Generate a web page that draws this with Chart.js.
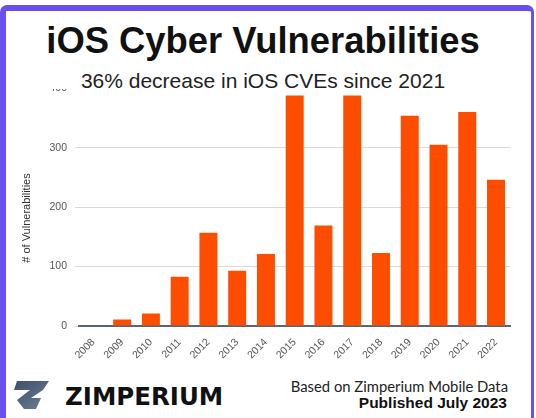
<!DOCTYPE html>
<html>
<head>
<meta charset="utf-8">
<script src="https://cdn.jsdelivr.net/npm/chart.js@4/dist/chart.umd.min.js"></script>
<style>
  html, body { margin: 0; padding: 0; background: #fff; }
  body { width: 536px; height: 418px; position: relative; overflow: hidden; }
  #frame { position: absolute; left: 0; top: 5px; width: 534px; height: 440px; box-sizing: border-box;
           border-top: 6px solid #6b4ef0; border-left: 6px solid #6b4ef0; border-right: 3px solid #6b4ef0;
           border-radius: 7px 7px 0 0; }
  .t { position: absolute; white-space: nowrap; line-height: 1; }
  #title { left: 0; width: 526px; text-align: center; top: 19.5px; font: bold 36.4px "Liberation Sans", Arial, sans-serif; color: #111; }
  #sub { left: 0; width: 526px; text-align: center; top: 69px; font: 21px "Liberation Sans", Arial, sans-serif; color: #222; }
  #wrap { position: absolute; left: 0; top: 89px; width: 536px; height: 276px; overflow: hidden; }
  #box { position: absolute; left: 0; top: -15px; width: 536px; height: 291px; }
  #ytitle { position: absolute; left: 26px; top: 217.5px; transform: translate(-50%, -50%) rotate(-90deg);
            font: 11px "Liberation Sans", Arial, sans-serif; color: #333; white-space: nowrap; }
  #zim { left: 65px; top: 382px; font: bold 24.5px "DejaVu Sans", sans-serif; color: #111; }
  #based { right: 28px; top: 377px; font: 14.8px Lato, sans-serif; color: #222; }
  #pub { right: 29px; top: 394px; font: bold 15.5px "Liberation Sans", Arial, sans-serif; color: #111; }
  #logo { position: absolute; left: 0; top: 0; }
</style>
</head>
<body>
<div id="frame"></div>
<div class="t" id="title">iOS Cyber Vulnerabilities</div>
<div class="t" id="sub">36% decrease in iOS CVEs since 2021</div>
<div id="wrap"><div id="box"><canvas id="c"></canvas></div></div>
<div id="ytitle"># of Vulnerabilities</div>
<svg id="logo" width="60" height="418" viewBox="0 0 60 418">
  <defs>
    <linearGradient id="g" x1="0" y1="0" x2="1" y2="1">
      <stop offset="0" stop-color="#3d4e66"/>
      <stop offset="1" stop-color="#6e8098"/>
    </linearGradient>
  </defs>
  <polygon fill="url(#g)" points="17,381 49,381 43,390 31,398 41,398 36,409 24,409 17,400 30,390 14,390"/>
</svg>
<div class="t" id="zim">ZIMPERIUM</div>
<div class="t" id="based">Based on Zimperium Mobile Data</div>
<div class="t" id="pub">Published July 2023</div>
<script>
const years = ['2008','2009','2010','2011','2012','2013','2014','2015','2016','2017','2018','2019','2020','2021','2022'];
const vulnerabilities = [0, 11, 21, 83, 157, 93, 121, 388, 169, 388, 123, 354, 305, 360, 246];
const yMax = 400;
const yStep = 100;

new Chart(document.getElementById('c'), {
  type: 'bar',
  data: {
    labels: years,
    datasets: [{
      label: '# of Vulnerabilities',
      data: vulnerabilities,
      backgroundColor: '#ff4d00',
      borderWidth: 0,
      categoryPercentage: 1,
      barPercentage: 0.625
    }]
  },
  options: {
    responsive: true,
    maintainAspectRatio: false,
    animation: false,
    devicePixelRatio: 1,
    layout: { padding: { top: 8, left: 0, right: 25.6, bottom: 0 } },
    plugins: { legend: { display: false }, tooltip: { enabled: false } },
    scales: {
      y: {
        min: 0, max: yMax,
        ticks: { stepSize: yStep, color: '#555', padding: 8,
                 font: { family: 'Liberation Sans', size: 10.5 } },
        grid: { color: '#d9d9d9', lineWidth: 1, drawTicks: true, tickLength: 4 },
        border: { display: false },
        afterFit: s => { s.width = 79; }
      },
      x: {
        ticks: { minRotation: 45, maxRotation: 45, color: '#555', padding: 2, autoSkip: false,
                 font: { family: 'Liberation Sans', size: 10.5 } },
        grid: { display: false },
        border: { display: true, color: '#5b6573', width: 2 },
        afterFit: s => { s.height = 39; }
      }
    }
  }
});
</script>
</body>
</html>
